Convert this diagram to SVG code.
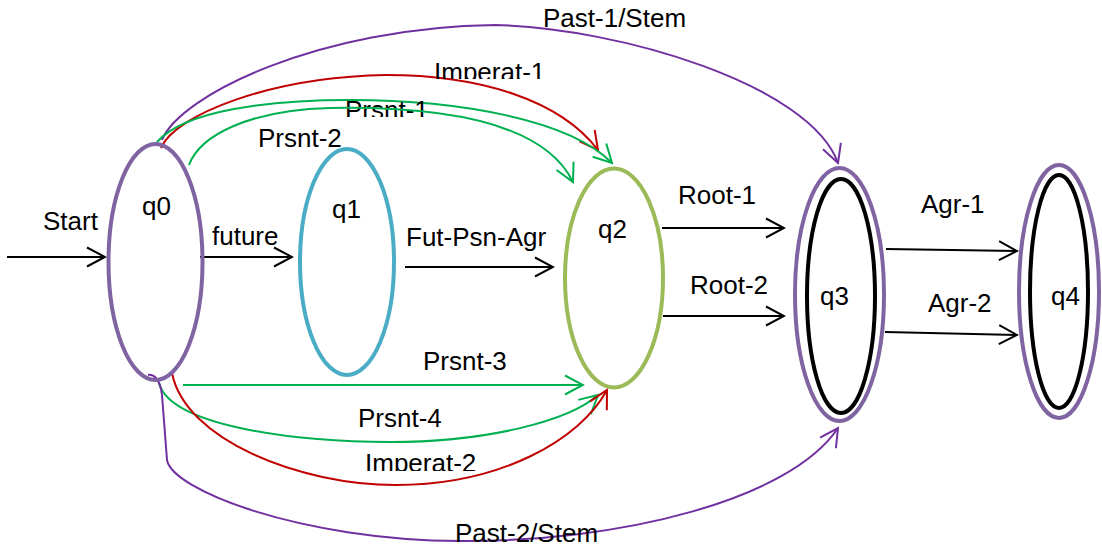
<svg xmlns="http://www.w3.org/2000/svg" width="1102" height="546" viewBox="0 0 1102 546">
<style>
text{font-family:"Liberation Sans",Arial,sans-serif;font-size:26px;fill:#000}
.st{fill:none;stroke-width:4}
.ln{fill:none;stroke-width:2}
.k{stroke:#000}
.p{stroke:#7030A0}
.r{stroke:#C00000}
.g{stroke:#00B050}
</style>
<defs>
<marker id="ak" markerUnits="userSpaceOnUse" viewBox="-22 -12 24 24" markerWidth="24" markerHeight="24" refX="0" refY="0" orient="auto"><path d="M-18,-9.5 L0,0 L-18,9.5" fill="none" stroke="#000" stroke-width="2"/></marker>
<marker id="ap" markerUnits="userSpaceOnUse" viewBox="-22 -12 24 24" markerWidth="24" markerHeight="24" refX="0" refY="0" orient="auto"><path d="M-18,-9.5 L0,0 L-18,9.5" fill="none" stroke="#7030A0" stroke-width="2"/></marker>
<marker id="ar" markerUnits="userSpaceOnUse" viewBox="-22 -12 24 24" markerWidth="24" markerHeight="24" refX="0" refY="0" orient="auto"><path d="M-18,-9.5 L0,0 L-18,9.5" fill="none" stroke="#C00000" stroke-width="2"/></marker>
<marker id="ag" markerUnits="userSpaceOnUse" viewBox="-22 -12 24 24" markerWidth="24" markerHeight="24" refX="0" refY="0" orient="auto"><path d="M-18,-9.5 L0,0 L-18,9.5" fill="none" stroke="#00B050" stroke-width="2"/></marker>
<clipPath id="c-past1"><rect x="530" y="0" width="200" height="28"/></clipPath>
<clipPath id="c-imp1"><rect x="420" y="50" width="150" height="29"/></clipPath>
<clipPath id="c-prs1"><rect x="330" y="90" width="120" height="27"/></clipPath>
<clipPath id="c-prs2"><rect x="240" y="120" width="120" height="28"/></clipPath>
<clipPath id="c-imp2"><rect x="350" y="440" width="150" height="31"/></clipPath>
</defs>
<rect width="1102" height="546" fill="#fff"/>
<g id="connectors">
<g id="e-start"><line class="ln k" x1="7" y1="257" x2="105" y2="257" marker-end="url(#ak)"/><text x="43" y="230">Start</text></g>
<g id="e-future"><line class="ln k" x1="200" y1="257" x2="292" y2="257" marker-end="url(#ak)"/><text x="212" y="245">future</text></g>
<g id="e-fut"><line class="ln k" x1="405" y1="267" x2="553" y2="267" marker-end="url(#ak)"/><text x="406" y="246">Fut-Psn-Agr</text></g>
<g id="e-root1"><line class="ln k" x1="662" y1="228" x2="784" y2="228" marker-end="url(#ak)"/><text x="678" y="204">Root-1</text></g>
<g id="e-root2"><line class="ln k" x1="663" y1="316" x2="784" y2="316" marker-end="url(#ak)"/><text x="690" y="294">Root-2</text></g>
<g id="e-agr1"><line class="ln k" x1="886" y1="249" x2="1017" y2="251" marker-end="url(#ak)"/><text x="921" y="213">Agr-1</text></g>
<g id="e-agr2"><line class="ln k" x1="885" y1="332" x2="1017" y2="335" marker-end="url(#ak)"/><text x="928" y="312">Agr-2</text></g>
<g id="e-past1"><path class="ln p" d="M162,140 C180,95 320,27 495,25 C620,28 810,85 838,163" marker-end="url(#ap)"/><text x="543" y="27" clip-path="url(#c-past1)">Past-1/Stem</text></g>
<g id="e-imp1"><path class="ln r" d="M161,148 C175,115 270,77 386,75 C480,75 560,100 598,150" marker-end="url(#ar)"/><text x="434" y="81" clip-path="url(#c-imp1)">Imperat-1</text></g>
<g id="e-prs1"><path class="ln g" d="M157,142 C185,110 270,100 350,100 C460,100 570,120 612,163" marker-end="url(#ag)"/><text x="345" y="119" clip-path="url(#c-prs1)">Prsnt-1</text></g>
<g id="e-prs2"><path class="ln g" d="M189,165 C200,135 250,110 330,108 C450,106 545,125 573,182" marker-end="url(#ag)"/><text x="258" y="147" clip-path="url(#c-prs2)">Prsnt-2</text></g>
<g id="e-prs3"><line class="ln g" x1="183" y1="385" x2="583" y2="385" marker-end="url(#ag)"/><text x="423" y="370">Prsnt-3</text></g>
<g id="e-prs4"><path class="ln g" d="M159,383 C170,425 290,442 390,442 C490,442 570,420 598,395" marker-end="url(#ag)"/><text x="358" y="427">Prsnt-4</text></g>
<g id="e-imp2"><path class="ln r" d="M172,373 C185,440 300,485 396,485 C500,485 580,440 607,390" marker-end="url(#ar)"/><text x="365" y="472" clip-path="url(#c-imp2)">Imperat-2</text></g>
<g id="e-past2"><path class="ln p" d="M148,375 C153,374 160,378 162,395 L167,460 C172,490 300,540 460,541 C620,542 790,500 838,428" marker-end="url(#ap)"/><text x="455" y="542">Past-2/Stem</text></g>
</g>
<g id="q0"><ellipse class="st" cx="155.5" cy="262" rx="47" ry="118" stroke="#8064A2"/><text x="142" y="215">q0</text></g>
<g id="q1"><ellipse class="st" cx="347" cy="262" rx="47" ry="113" stroke="#4BACC6"/><text x="332" y="218">q1</text></g>
<g id="q2"><ellipse class="st" cx="614" cy="278" rx="49" ry="109.5" stroke="#9BBB59"/><text x="598" y="238">q2</text></g>
<g id="q3"><ellipse class="st" cx="839.5" cy="294.5" rx="44.5" ry="126.5" stroke="#8064A2"/><ellipse class="st" cx="841" cy="296" rx="34" ry="117" stroke="#000" stroke-width="4.5"/><text x="820" y="305">q3</text></g>
<g id="q4"><ellipse class="st" cx="1059" cy="291.5" rx="40" ry="126.5" stroke="#8064A2"/><ellipse class="st" cx="1059" cy="291.5" rx="29" ry="116.5" stroke="#000" stroke-width="4.5"/><text x="1051" y="305">q4</text></g>
</svg>
